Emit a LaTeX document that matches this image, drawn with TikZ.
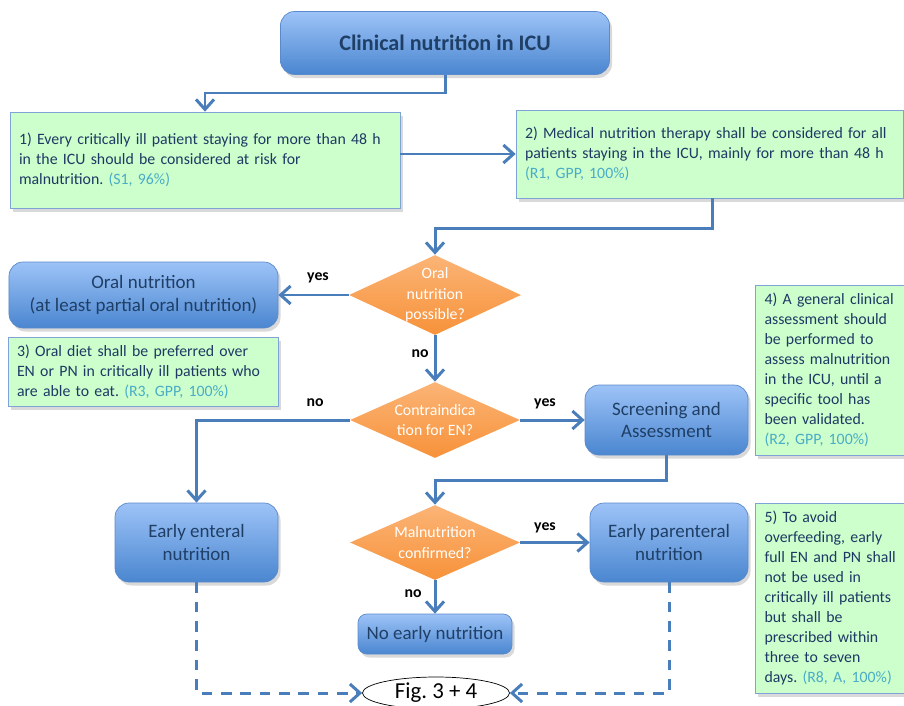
\documentclass[tikz,border=0pt]{standalone}
\usepackage{fontspec}
\setmainfont{Carlito}
\usetikzlibrary{shapes.geometric,arrows.meta,shadows}

\definecolor{boxtop}{HTML}{9DC3F7}
\definecolor{boxbot}{HTML}{4A86D0}
\definecolor{boxline}{HTML}{5A8ACB}
\definecolor{boxtext}{HTML}{1F3F66}
\definecolor{notefill}{HTML}{CCFFCC}
\definecolor{noteline}{HTML}{7FA3D6}
\definecolor{notetext}{HTML}{1F3864}
\definecolor{citetext}{HTML}{4BACC6}
\definecolor{diatop}{HTML}{FBB476}
\definecolor{diabot}{HTML}{F7923A}
\definecolor{flowline}{HTML}{4A7EBB}

\frenchspacing
\newcommand{\grade}[1]{\textcolor{citetext}{#1}}
\newcommand{\notefont}{\fontsize{9}{11.4}\selectfont\hyphenpenalty=10000\relax}

\tikzset{
  stepbox/.style={rounded corners=8pt,draw=boxline,top color=boxtop,bottom color=boxbot,
    text=boxtext,align=center,inner sep=0pt,font=\fontsize{10.8}{13}\selectfont,
    drop shadow={opacity=0.3,shadow xshift=0.5mm,shadow yshift=-0.7mm}},
  notebox/.style={draw=noteline,fill=notefill,text=notetext,align=left,
    inner xsep=0.18cm,inner ysep=0pt,font=\notefont,
    drop shadow={opacity=0.3,shadow xshift=0.5mm,shadow yshift=-0.7mm}},
  question/.style={diamond,top color=diatop,bottom color=diabot,inner sep=0pt},
  questext/.style={text=white,align=center,font=\fontsize{9}{11.6}\selectfont},
  answer/.style={font=\bfseries\fontsize{9}{11}\selectfont},
  flow/.style={flowline,line width=1.7pt,-{Straight Barb[length=2mm,width=3.6mm]}},
  dashflow/.style={flow,dash pattern=on 6pt off 5pt},
}

\begin{document}
\begin{tikzpicture}
\useasboundingbox (0,0) rectangle (18.08,14.10);

%---------------------------------------------------
%title and first statements
\node[stepbox,minimum width=6.58cm,minimum height=1.26cm,
  font=\bfseries\fontsize{12.6}{15}\selectfont] (title) at (8.90,13.24) {Clinical nutrition in ICU};

\node[notebox,text width=7.44cm,minimum height=1.92cm] (st1) at (4.10,10.90)
  {1) Every critically ill patient staying for more than 48 h\\
   in the ICU should be considered at risk for\\
   malnutrition. \grade{(S1, 96\%)}};
\node[notebox,text width=7.38cm,minimum height=1.76cm] (st2) at (14.19,11.02)
  {2) Medical nutrition therapy shall be considered for all\\
   patients staying in the ICU, mainly for more than 48 h\\
   \grade{(R1, GPP, 100\%)}};

%---------------------------------------------------
%decisions
\node[question,minimum width=3.44cm,minimum height=1.60cm,
  label={[questext]center:Oral\\nutrition\\possible?}] (oralq) at (8.70,8.20) {};
\node[question,minimum width=3.40cm,minimum height=1.52cm,
  label={[questext]center:Contraindica\\tion for EN?}] (contraq) at (8.70,5.70) {};
\node[question,minimum width=3.40cm,minimum height=1.50cm,
  label={[questext]center:Malnutrition\\confirmed?}] (malq) at (8.70,3.25) {};

%---------------------------------------------------
%pathways
\node[stepbox,minimum width=5.38cm,minimum height=1.32cm] (oral) at (2.87,8.20)
  {Oral nutrition\\(at least partial oral nutrition)};
\node[stepbox,minimum width=3.26cm,minimum height=1.40cm] (screen) at (13.33,5.70)
  {Screening and\\Assessment};
\node[stepbox,minimum width=3.26cm,minimum height=1.58cm] (enteral) at (3.93,3.25)
  {Early enteral\\nutrition};
\node[stepbox,minimum width=3.16cm,minimum height=1.58cm] (parenteral) at (13.38,3.25)
  {Early parenteral\\nutrition};
\node[stepbox,minimum width=3.08cm,minimum height=0.80cm,rounded corners=5pt] (noearly) at (8.70,1.42)
  {No early nutrition};
\node[ellipse,draw=black,fill=white,minimum width=2.94cm,minimum height=0.64cm,inner sep=0pt,
  font=\fontsize{13}{14}\selectfont] (fig) at (8.72,0.24) {Fig. 3 + 4};

%---------------------------------------------------
%side statements
\node[notebox,text width=5.04cm,minimum height=1.38cm] (st3) at (2.86,6.67)
  {3) Oral diet shall be preferred over\\
   EN or PN in critically ill patients who\\
   are able to eat. \grade{(R3, GPP, 100\%)}};
\node[notebox,text width=2.62cm,minimum height=3.40cm] (st4) at (16.60,6.70)
  {4) A general clinical\\ assessment should\\ be performed to\\ \mbox{assess malnutrition}\\
   in the ICU, until a\\ specific tool has\\ been validated.\\ \grade{(R2, GPP, 100\%)}};
\node[notebox,text width=2.62cm,minimum height=3.80cm] (st5) at (16.60,2.14)
  {5) To avoid\\ overfeeding, early\\ \mbox{full EN and PN shall}\\ not be used in\\
   \mbox{critically ill patients}\\ but shall be\\ prescribed within\\ three to seven\\
   \mbox{days. \grade{(R8, A, 100\%)}}};

%---------------------------------------------------
%arrows
\draw[flow] (title.south) -- (title.south |- 0,12.24) -| (st1.north);
\draw[flow] (st1.east |- st2.west) -- (st2.west);
\draw[flow] ([xshift=0.05cm]st2.south) -- ++(0,-0.60) -| (oralq.north);
\draw[flow] (oralq.west) -- (oral.east);
\draw[flow] (oralq.south) -- (contraq.north);
\draw[flow] (contraq.east) -- (screen.west);
\draw[flow] (contraq.west) -| (enteral.north);
\draw[flow] (screen.south) -- ++(0,-0.50) -| (malq.north);
\draw[flow] (malq.east) -- (parenteral.west);
\draw[flow] (malq.south) -- (noearly.north);
\draw[dashflow] (enteral.south) |- (fig.west);
\draw[dashflow] (parenteral.south) |- (fig.east);

\node[answer] (yes1) at (6.36,8.54) {yes};
\node[answer] (no1) at (8.40,7.02) {no};
\node[answer] (no2) at (6.30,6.04) {no};
\node[answer] (yes2) at (10.90,6.02) {yes};
\node[answer] (yes3) at (10.90,3.54) {yes};
\node[answer] (no3) at (8.26,2.22) {no};

\end{tikzpicture}
\end{document}
